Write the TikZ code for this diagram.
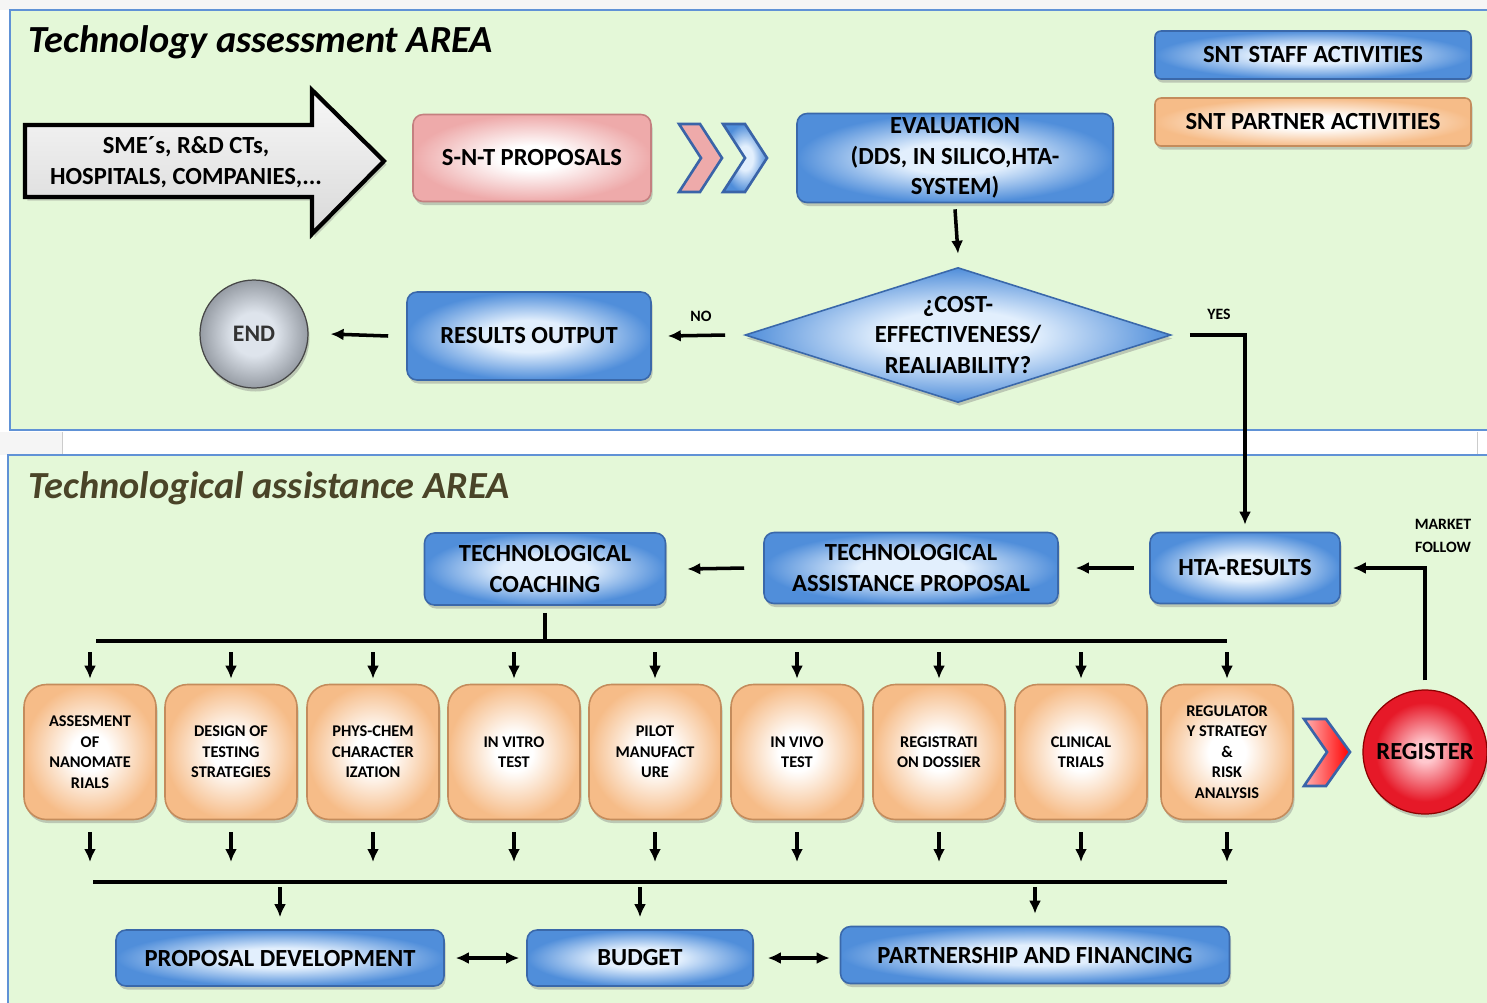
\documentclass[tikz,border=0pt]{standalone}
\usepackage{fontspec}
\setmainfont{Carlito}
\usetikzlibrary{arrows.meta,shadows,shapes.geometric,calc}
\definecolor{panelfill}{RGB}{228,248,216}
\definecolor{panelline}{RGB}{96,146,214}
\definecolor{bedge}{RGB}{58,104,170}
\definecolor{bouter}{RGB}{80,142,218}
\definecolor{binner}{RGB}{226,239,253}
\definecolor{oouter}{RGB}{246,188,136}
\definecolor{oedge}{RGB}{196,140,92}
\definecolor{pouter}{RGB}{238,170,170}
\definecolor{pedge}{RGB}{196,128,128}
\definecolor{titlebrown}{RGB}{74,68,40}
\definecolor{chevblue}{RGB}{58,100,168}
\definecolor{endin}{RGB}{222,228,236}
\definecolor{endout}{RGB}{150,156,164}
\definecolor{regin}{RGB}{255,200,206}
\definecolor{regout}{RGB}{230,25,40}
\pgfdeclareradialshading{softblue}{\pgfpointorigin}{color(0bp)=(binner); color(9bp)=(binner); color(25bp)=(bouter); color(50bp)=(bouter)}
\pgfdeclareradialshading{softorange}{\pgfpointorigin}{color(0bp)=(white); color(7bp)=(white); color(25bp)=(oouter); color(50bp)=(oouter)}
\pgfdeclareradialshading{softpink}{\pgfpointorigin}{color(0bp)=(white); color(7bp)=(white); color(25bp)=(pouter); color(50bp)=(pouter)}
\pgfdeclareradialshading{softgrey}{\pgfpointorigin}{color(0bp)=(endin); color(10bp)=(endin); color(25bp)=(endout); color(50bp)=(endout)}
\pgfdeclareradialshading{softred}{\pgfpointorigin}{color(0bp)=(regin); color(4bp)=(regin); color(20bp)=(regout); color(50bp)=(regout)}
\begin{document}
\begin{tikzpicture}[x=0.02cm,y=-0.02cm,
  sz/.style 2 args={minimum width=#1*0.02cm,minimum height=#2*0.02cm},
  base/.style={inner sep=0pt,align=center,text=black,font=\bfseries\fontsize{14}{17.5}\selectfont},
  shad/.style={drop shadow={shadow xshift=0.03cm,shadow yshift=-0.07cm,opacity=0.4}},
  bluebox/.style={base,shad,rounded corners=0.2cm,draw=bedge,line width=0.9pt,shading=softblue},
  pinkbox/.style={base,shad,rounded corners=0.2cm,draw=pedge,line width=0.9pt,shading=softpink},
  orangebox/.style={base,shad,rounded corners=0.2cm,draw=oedge,line width=0.9pt,shading=softorange},
  taskbox/.style={orangebox,sz={132}{135},rounded corners=0.45cm,font=\bfseries\fontsize{9.3}{11.7}\selectfont},
  conn/.style={line width=2pt,-{Latex[length=0.26cm,width=0.24cm]}},
  dconn/.style={line width=2pt,{Latex[length=0.26cm,width=0.24cm]}-{Latex[length=0.26cm,width=0.24cm]}},
  busline/.style={line width=2.3pt},
  small/.style={inner sep=0pt,align=center,font=\bfseries\fontsize{9}{13}\selectfont},
  paneltitle/.style={inner sep=0pt,anchor=west,font=\bfseries\itshape\fontsize{21.8}{25}\selectfont},
]
\useasboundingbox (0,0) rectangle (1487,1002);
\clip (0,0) rectangle (1487,1002);
\fill[white] (0,0) rectangle (1487,1002);
\fill[gray!8] (0,0) rectangle (1487,10);
\fill[gray!8] (0,432) rectangle (62,455);
\draw[gray!40] (62,432) -- (62,455);
\draw[gray!40] (1477,432) -- (1477,455);
% panels
\draw[panelline,line width=1.6pt,fill=panelfill] (10,10) rectangle (1500,430);
\draw[panelline,line width=1.6pt,fill=panelfill] (8,455) rectangle (1500,1010);
\node[paneltitle] (title1) at (28,42) {Technology assessment AREA};
\node[paneltitle,text=titlebrown] (title2) at (28,488) {Technological assistance AREA};

% big source arrow
\path[draw=black,line width=2.4pt,line join=miter,top color=gray!6,bottom color=gray!30,
  drop shadow={shadow xshift=0.05cm,shadow yshift=-0.07cm,opacity=0.35}]
  (25,125) -- (312,125) -- (312,90) -- (384,161) -- (312,234) -- (312,197) -- (25,197) -- cycle;
\node[base] (src) at (186,162) {SME´s, R\&D CTs,\\HOSPITALS, COMPANIES,...};

% top row
\node[pinkbox,sz={238}{87}] (snt) at (532,158) {S-N-T PROPOSALS};
\node[bluebox,sz={316}{89}] (eval) at (955,158) {EVALUATION\\(DDS, IN SILICO,HTA-\\SYSTEM)};
\node[bluebox,sz={316}{48},rounded corners=0.12cm] (leg1) at (1313,55) {SNT STAFF ACTIVITIES};
\node[orangebox,sz={316}{48},rounded corners=0.12cm] (leg2) at (1313,122) {SNT PARTNER ACTIVITIES};

% chevrons
\draw[chevblue,line width=1.5pt,line join=miter,fill=pouter]
  (679,124) -- (700,124) -- (722,158) -- (700,192) -- (679,192) -- (701,158) -- cycle;
\draw[chevblue,line width=1.5pt,line join=miter,shading=softblue]
  (723,124) -- (745,124) -- (767,158) -- (745,192) -- (723,192) -- (745,158) -- cycle;

% decision
\node[diamond,shad,draw=bedge,line width=0.9pt,shading=softblue,sz={426}{135},inner sep=0pt] (dec) at (958,335) {};
\node[base] (dect) at (dec.center) {¿COST-\\EFFECTIVENESS/\\REALIABILITY?};

\node[bluebox,sz={244}{88}] (res) at (529,336) {RESULTS OUTPUT};
\node[base,circle,sz={108}{108},shading=softgrey,draw=gray!55!black,line width=0.7pt,
  text=black!80,font=\bfseries\fontsize{13.5}{16}\selectfont,shad] (end) at (254,334) {END};

\node[small] (nol) at (701,316) {NO};
\node[small] (yesl) at (1219,314) {YES};

% assistance area
\node[bluebox,sz={190}{71}] (hta) at (1245,568) {HTA-RESULTS};
\node[bluebox,sz={294}{71}] (tap) at (911,568) {TECHNOLOGICAL\\ASSISTANCE PROPOSAL};
\node[bluebox,sz={241}{72}] (coach) at (545,569) {TECHNOLOGICAL\\COACHING};
\node[small] (mkt) at (1443,536) {MARKET\\FOLLOW};

\node[taskbox] (t1) at (90,752) {ASSESMENT\\OF\\NANOMATE\\RIALS};
\node[taskbox] (t2) at (231,752) {DESIGN OF\\TESTING\\STRATEGIES};
\node[taskbox] (t3) at (373,752) {PHYS-CHEM\\CHARACTER\\IZATION};
\node[taskbox] (t4) at (514,752) {IN VITRO\\TEST};
\node[taskbox] (t5) at (655,752) {PILOT\\MANUFACT\\URE};
\node[taskbox] (t6) at (797,752) {IN VIVO\\TEST};
\node[taskbox] (t7) at (939,752) {REGISTRATI\\ON DOSSIER};
\node[taskbox] (t8) at (1081,752) {CLINICAL\\TRIALS};
\node[taskbox] (t9) at (1227,752) {REGULATOR\\Y STRATEGY\\\&\\RISK\\ANALYSIS};

\draw[chevblue,line width=1.5pt,line join=miter,left color=red!30!white,right color=red]
  (1304,719) -- (1326,719) -- (1350,752) -- (1326,786) -- (1304,786) -- (1327,752) -- cycle;
\node[base,circle,sz={124}{124},shading=softred,draw=red!55!black,line width=0.7pt,shad] (reg) at (1425,752) {REGISTER};

\node[bluebox,sz={328}{56}] (pd) at (280,958) {PROPOSAL DEVELOPMENT};
\node[bluebox,sz={226}{56}] (bud) at (640,958) {BUDGET};
\node[bluebox,sz={389}{57}] (pf) at (1035,955) {PARTNERSHIP AND FINANCING};

\coordinate (bus1) at (0,641);
\coordinate (bus2) at (0,882);

% connectors
\draw[conn] ($(eval.south)+(0,6)$) -- ($(dec.north)+(0,-13)$);
\draw[conn] ($(dec.west)+(-19,0)$) -- ($(res.east)+(16,0)$);
\draw[conn] ($(res.west)+(-18,0)$) -- ($(end.east)+(22,0)$);
\draw[conn] ($(dec.east)+(18,0)$) -| ($(hta.north)+(0,-7)$);
\draw[conn] ($(hta.west)+(-15,0)$) -- ($(tap.east)+(17,0)$);
\draw[conn] ($(tap.west)+(-19,0)$) -- ($(coach.east)+(21,0)$);
\draw[busline] ($(coach.south)+(0,7)$) -- (coach.south |- bus1);
\draw[busline] ($(t1.center |- bus1)+(6,0)$) -- (t9.center |- bus1);
\foreach \i in {1,...,9}{
  \draw[conn] ($(t\i.north |- bus1)+(0,11)$) -- ($(t\i.north)+(0,-5)$);
  \draw[conn] ($(t\i.south)+(0,12)$) -- ($(t\i.south |- bus2)+(0,-20)$);
}
\draw[busline] ($(t1.center |- bus2)+(3,0)$) -- (t9.center |- bus2);
\foreach \n in {pd,bud,pf}{
  \draw[conn] ($(\n.north |- bus2)+(0,5)$) -- ($(\n.north)+(0,-12)$);
}
\draw[dconn] ($(pd.east)+(11,0)$) -- ($(bud.west)+(-7,0)$);
\draw[dconn] ($(bud.east)+(14,0)$) -- ($(pf.west |- bud.east)+(-10,0)$);
\draw[conn] ($(reg.north)+(0,-9)$) |- ($(hta.east)+(12,0)$);
\end{tikzpicture}
\end{document}
